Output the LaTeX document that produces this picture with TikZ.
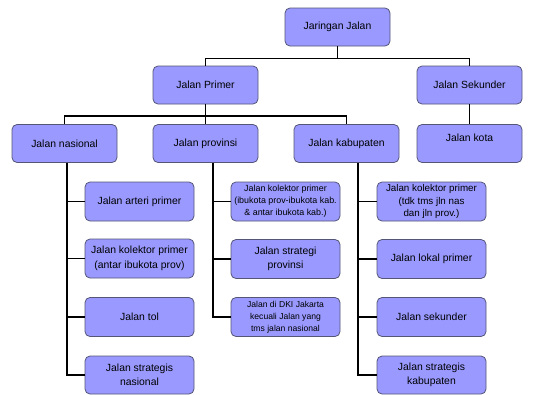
\documentclass[tikz,border=0pt]{standalone}
\usepackage{fontspec}
\setmainfont{Liberation Sans}
\definecolor{boxfill}{RGB}{153,153,255}
\definecolor{boxline}{RGB}{85,85,120}
\tikzset{
  rbox/.style={draw=boxline, fill=boxfill, line width=0.8pt, rounded corners=5pt,
    inner sep=0pt, align=center, minimum width=105pt, minimum height=38pt,
    font=\fontsize{10.4}{14.5}\selectfont},
  cbox/.style={rbox, minimum width=109pt, minimum height=39pt},
  conn/.style={line width=1.3pt, black},
}
\begin{document}
\begin{tikzpicture}[x=1pt,y=-1pt]
\useasboundingbox (0,0) rectangle (541,394);
\fill[white] (0,0) rectangle (541,394);
% level 1-3
\node[rbox] (jj) at (337.5,27) {Jaringan Jalan};
\node[rbox] (jp) at (205.5,85) {Jalan Primer};
\node[rbox] (js) at (469.5,85) {Jalan Sekunder};
\node[rbox] (jnas) at (64.5,143.5) {Jalan nasional};
\node[rbox] (jprov) at (205.5,143.5) {Jalan provinsi};
\node[rbox] (jkab) at (346.5,143.5) {Jalan kabupaten};
\node[rbox, label={[yshift=6pt, font=\fontsize{10.4}{14.5}\selectfont]center:Jalan kota}] (jkota) at (469.5,143.5) {};
% nasional children
\node[cbox] (n1) at (139.5,201.5) {Jalan arteri primer};
\node[cbox] (n2) at (139.5,258.5) {Jalan kolektor primer\\(antar ibukota prov)};
\node[cbox] (n3) at (139.5,317) {Jalan tol};
\node[cbox, minimum height=38pt] (n4) at (139.5,375) {Jalan strategis\\nasional};
% provinsi children
\node[cbox, font=\fontsize{8.9}{12}\selectfont] (p1) at (285.5,201.5) {Jalan kolektor primer\\(ibukota prov-ibukota kab.\\\& antar ibukota kab.)};
\node[cbox] (p2) at (285.5,259) {Jalan strategi\\provinsi};
\node[cbox, font=\fontsize{8.6}{12}\selectfont] (p3) at (285.5,317) {Jalan di DKI Jakarta\\kecuali Jalan yang\\tms jalan nasional};
% kabupaten children
\node[cbox, font=\fontsize{9.8}{12.5}\selectfont] (k1) at (431.5,201.5) {Jalan kolektor primer\\(tdk tms jln nas\\dan jln prov.)};
\node[cbox] (k2) at (431.5,259) {Jalan lokal primer};
\node[cbox] (k3) at (431.5,317) {Jalan sekunder};
\node[cbox, minimum height=38pt] (k4) at (431.5,375) {Jalan strategis\\kabupaten};
% connectors
\draw[conn] (jj.south) -- ++(0,13);
\draw[conn] (jp.north) -- ++(0,-7) -| (js.north);
\draw[conn] (jp.south) -- (jprov.north);
\draw[conn] (jnas.north) -- ++(0,-8) -| (jkab.north);
\draw[conn] (js.south) -- (jkota.north);
\foreach \c in {n1,n2,n3,n4} \draw[conn] ([xshift=2.5pt]jnas.south) |- (\c.west);
\foreach \c in {p1,p2,p3} \draw[conn] ([xshift=7.5pt]jprov.south) |- (\c.west);
\foreach \c in {k1,k2,k3,k4} \draw[conn] ([xshift=11.5pt]jkab.south) |- (\c.west);
\end{tikzpicture}
\end{document}
